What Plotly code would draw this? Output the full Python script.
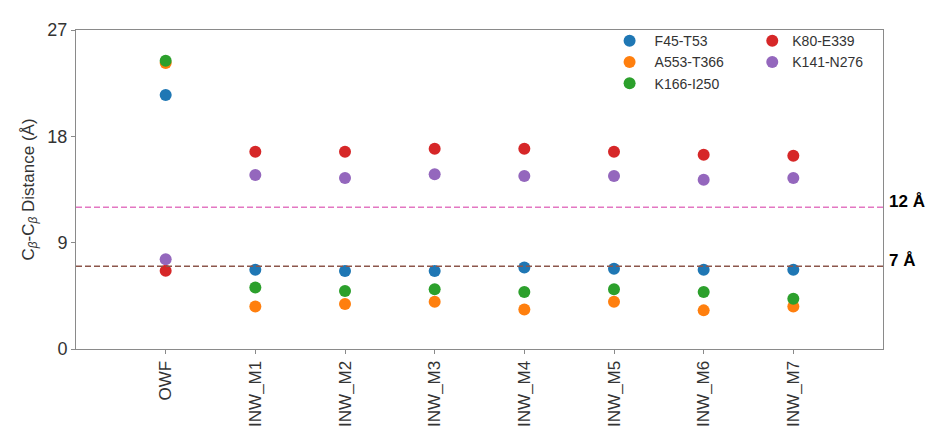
import plotly.graph_objects as go

categories = ["OWF", "INW_M1", "INW_M2", "INW_M3", "INW_M4", "INW_M5", "INW_M6", "INW_M7"]

f45_t53 = [21.5, 6.7, 6.6, 6.6, 6.9, 6.8, 6.7, 6.7]
a553_t366 = [24.2, 3.6, 3.8, 4.0, 3.35, 4.0, 3.27, 3.6]
k166_i250 = [24.4, 5.2, 4.9, 5.05, 4.83, 5.05, 4.83, 4.26]
k80_e339 = [6.63, 16.7, 16.7, 16.95, 16.95, 16.7, 16.45, 16.36]
k141_n276 = [7.6, 14.73, 14.48, 14.8, 14.64, 14.64, 14.32, 14.48]

series_names = ["F45-T53", "A553-T366", "K166-I250", "K80-E339", "K141-N276"]
series_values = [f45_t53, a553_t366, k166_i250, k80_e339, k141_n276]
colors = ["#1f77b4", "#ff7f0e", "#2ca02c", "#d62728", "#9467bd"]
legend_ids = ["legend", "legend", "legend", "legend2", "legend2"]

y_ticks = [0, 9, 18, 27]
thresholds = [12, 7]
threshold_labels = ["12 Å", "7 Å"]
threshold_colors = ["#e377c2", "#8c564b"]

fig = go.Figure()
for name, vals, col, lg in zip(series_names, series_values, colors, legend_ids):
    fig.add_trace(go.Scatter(
        x=categories, y=vals, mode="markers", name=name,
        marker=dict(color=col, size=12, line=dict(width=0)),
        legend=lg,
    ))

for t, lbl, c in zip(thresholds, threshold_labels, threshold_colors):
    fig.add_shape(type="line", xref="paper", x0=0, x1=1, yref="y", y0=t, y1=t,
                  line=dict(color=c, width=1.5, dash="6px,3px"), layer="above")
    fig.add_annotation(xref="paper", x=1.0, xanchor="left", xshift=4, yref="y", y=t,
                       yshift=6, text="<b>" + lbl + "</b>", showarrow=False,
                       font=dict(size=17, color="black", family="Liberation Sans"))

axis_line = "#8a8a8a"
fig.update_layout(
    width=937, height=441,
    margin=dict(l=68, r=62, t=12, b=100),
    paper_bgcolor="white", plot_bgcolor="white",
    font=dict(family="Liberation Sans, Arial, sans-serif", color="#333333"),
    xaxis=dict(
        type="category", range=[-1, 8], tickangle=-90,
        showline=True, linecolor=axis_line, linewidth=1, mirror=True,
        ticks="outside", ticklen=4, tickcolor=axis_line, showgrid=False, zeroline=False,
        tickfont=dict(size=17, color="#333333"),
    ),
    yaxis=dict(
        range=[0, 27], tickvals=y_ticks,
        showline=True, linecolor=axis_line, linewidth=1, mirror=True,
        ticks="outside", ticklen=4, tickcolor=axis_line, showgrid=False, zeroline=False,
        tickfont=dict(size=18, color="#333333"),
        title=dict(text="C<sub><i>β</i></sub>-C<sub><i>β</i></sub> Distance (Å)",
                   font=dict(size=17, color="#333333"), standoff=8),
    ),
    legend=dict(x=0.655, y=1.015, xanchor="left", yanchor="top", bgcolor="rgba(0,0,0,0)",
                font=dict(size=14, color="#333333"), tracegroupgap=0, itemwidth=40),
    legend2=dict(x=0.838, y=1.015, xanchor="left", yanchor="top", bgcolor="rgba(0,0,0,0)",
                 font=dict(size=14, color="#333333"), tracegroupgap=0),
    showlegend=True,
)

fig.write_html("out.html")
